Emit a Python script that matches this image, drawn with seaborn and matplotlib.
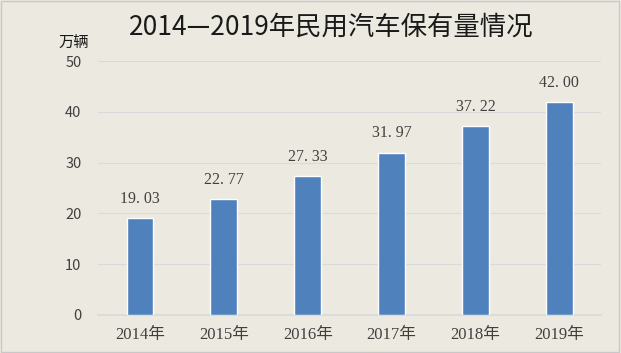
import matplotlib
matplotlib.use("Agg")
import matplotlib.pyplot as plt
import seaborn as sns
import pandas as pd

years = ["2014年", "2015年", "2016年", "2017年", "2018年", "2019年"]
values = [19.03, 22.77, 27.33, 31.97, 37.22, 42.00]
yticks = [0, 10, 20, 30, 40, 50]

bg = "#ECEAE0"
bar_color = "#4F81BD"

sns.set_theme(style="white")
plt.rcParams["font.family"] = ["Noto Sans CJK SC", "DejaVu Sans"]

df = pd.DataFrame({"year": years, "value": values})

fig = plt.figure(figsize=(6.21, 3.53), dpi=100, facecolor=bg)
ax = fig.add_axes([0.158, 0.108, 0.810, 0.719])
ax.set_facecolor(bg)

sns.barplot(data=df, x="year", y="value", color=bar_color, width=0.32,
            saturation=1, ax=ax, zorder=3)

ax.set_ylim(0, 50)
ax.set_xlim(-0.5, len(years) - 0.5)
ax.set_yticks(yticks)
ax.set_yticklabels([str(t) for t in yticks], fontsize=10.5, color="#404040")
ax.set_xticks(range(len(years)))
ax.set_xticklabels(years, fontsize=12, color="#404040",
                   family=["Liberation Serif", "Noto Sans CJK SC"])
ax.tick_params(axis="y", length=0, pad=12)
ax.tick_params(axis="x", length=0, pad=9)
ax.set_xlabel("")
ax.set_ylabel("")
ax.grid(axis="y", color="#D9D9D9", linewidth=0.8, zorder=0)
for s in ["top", "right", "left"]:
    ax.spines[s].set_visible(False)
ax.spines["bottom"].set_color("#D9D9D9")

for i, v in enumerate(values):
    ax.text(i, v + 2.2, f"{v:.2f}".replace(".", ". "), ha="center", va="bottom",
            fontsize=11.5, color="#404040", family=["Liberation Serif", "DejaVu Sans"])

fig.text(0.533, 0.924, "2014—2019年民用汽车保有量情况", ha="center", va="center",
         fontsize=19, color="#1a1a1a")
fig.text(0.118, 0.878, "万辆", ha="center", va="center", fontsize=11, color="#1a1a1a")

border = plt.Rectangle((0.002, 0.003), 0.995, 0.994, transform=fig.transFigure,
                       fill=False, edgecolor="#C8C8C8", linewidth=1)
fig.patches.append(border)

fig.savefig("out.png", dpi=100, facecolor=bg)
